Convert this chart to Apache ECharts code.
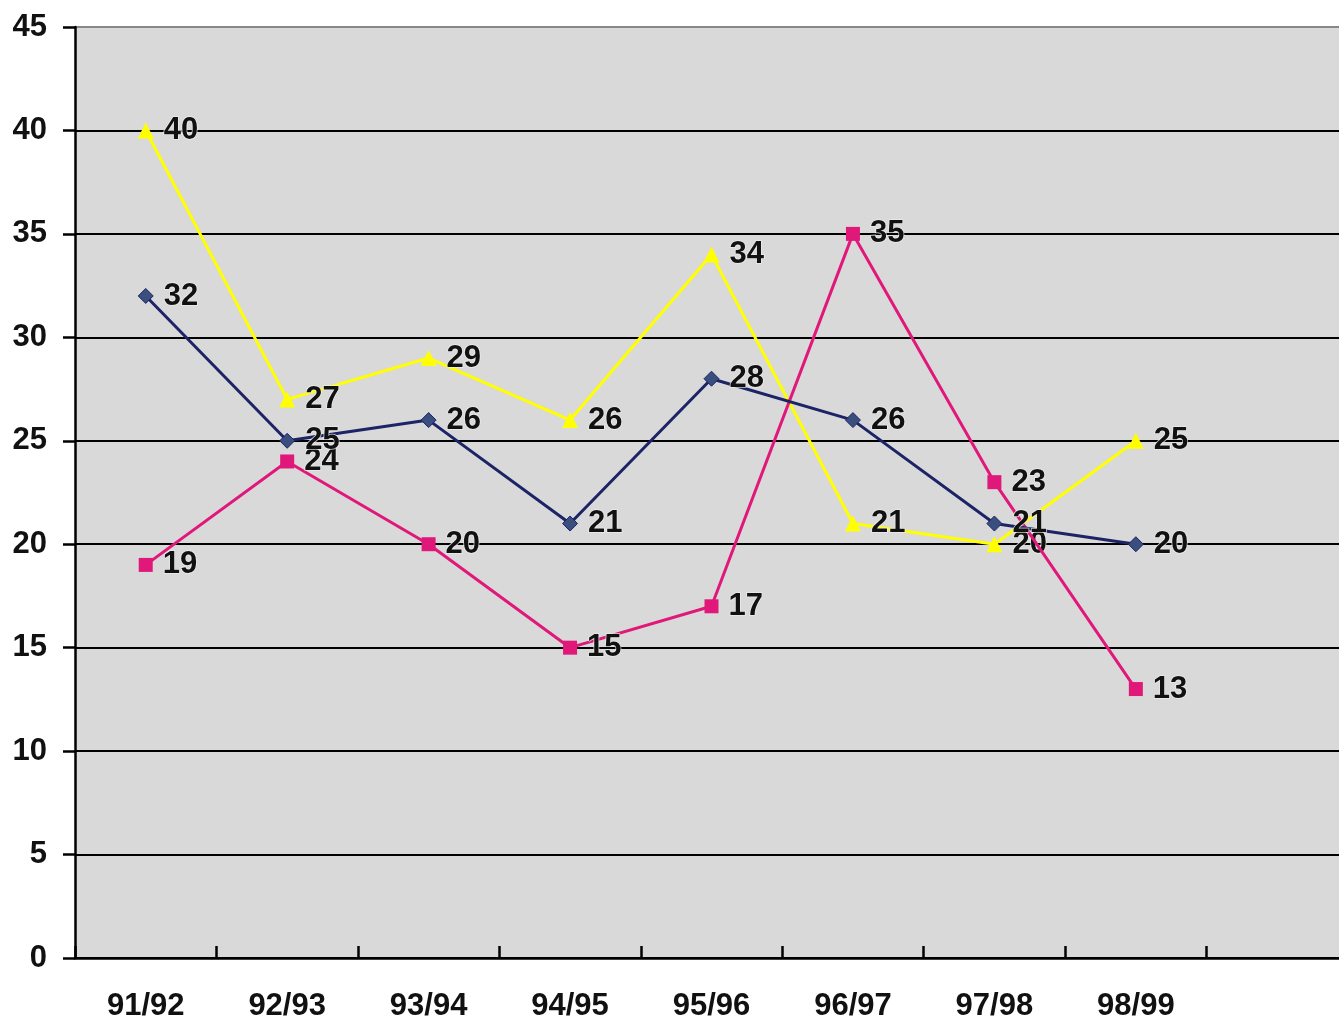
<!DOCTYPE html>
<html>
<head>
<meta charset="utf-8">
<script src="https://cdn.jsdelivr.net/npm/echarts@6/dist/echarts.min.js"></script>
<style>
html,body{margin:0;padding:0;background:#fff;overflow:hidden;}
#main{width:1349px;height:1022px;}
</style>
</head>
<body>
<div id="main"></div>
<script>
const categories = ['91/92','92/93','93/94','94/95','95/96','96/97','97/98','98/99',''];
const navySeries = [32,25,26,21,28,26,21,20];
const magentaSeries = [19,24,20,15,17,35,23,13];
const yellowSeries = [40,27,29,26,34,21,20,25];

const chart = echarts.init(document.getElementById('main'), null, {renderer:'canvas'});
const FONT = 'Liberation Sans, Arial, sans-serif';
const labelStyle = {
  show: true, position: 'right', distance: 10,
  fontSize: 31, fontWeight: 'bold', fontFamily: FONT,
  color: '#111', textBorderColor: 'rgba(240,240,240,0.8)', textBorderWidth: 1.5
};
chart.setOption({
  animation: false,
  backgroundColor: '#ffffff',
  grid: {left: 75, top: 27, width: 1273, height: 931, show: true,
         backgroundColor: '#d9d9d9', borderWidth: 0},
  xAxis: {
    type: 'category', data: categories, boundaryGap: true,
    axisLine: {show: true, lineStyle: {color: '#000', width: 2.5}},
    axisTick: {show: true, inside: true, length: 12, lineStyle: {color: '#000', width: 2.5}},
    axisLabel: {show: true, margin: 33, fontSize: 31, fontWeight: 'bold',
                fontFamily: FONT, color: '#111', interval: 0},
    splitLine: {show: false}
  },
  yAxis: {
    type: 'value', min: 0, max: 45, interval: 5,
    axisLine: {show: true, lineStyle: {color: '#000', width: 2.5}},
    axisTick: {show: true, length: 12, lineStyle: {color: '#000', width: 2.5}},
    axisLabel: {show: true, margin: 28, fontSize: 31, fontWeight: 'bold',
                fontFamily: FONT, color: '#111'},
    splitLine: {show: true, lineStyle: {width: 2,
      color: ['#000','#000','#000','#000','#000','#000','#000','#000','#000','#888']}}
  },
  series: [
    {type: 'line', data: navySeries, symbol: 'diamond', symbolSize: 15,
     lineStyle: {color: '#1c2466', width: 3},
     itemStyle: {color: '#3b4f7e', borderColor: '#1c2466', borderWidth: 1},
     label: labelStyle, z: 3},
    {type: 'line', data: magentaSeries, symbol: 'rect', symbolSize: 14,
     lineStyle: {color: '#e0187a', width: 3},
     itemStyle: {color: '#e0187a'},
     label: labelStyle, z: 2},
    {type: 'line', data: yellowSeries, symbol: 'triangle', symbolSize: 16,
     lineStyle: {color: '#ffff00', width: 3},
     itemStyle: {color: '#ffff00'},
     label: labelStyle, z: 1}
  ]
});
</script>
</body>
</html>
